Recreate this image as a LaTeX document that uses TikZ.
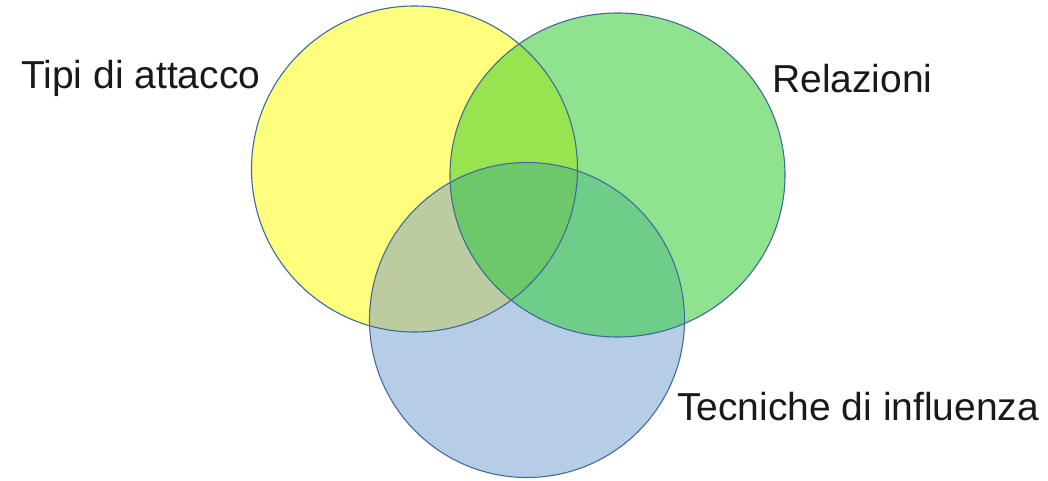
\documentclass[tikz,border=0pt]{standalone}
\usepackage{fontspec}
\setmainfont{Liberation Sans}
\definecolor{cyel}{RGB}{255,255,125}
\definecolor{cgrn}{RGB}{143,227,143}
\definecolor{cblu}{RGB}{182,205,230}
\definecolor{cyg}{RGB}{152,228,80}
\definecolor{cyb}{RGB}{188,203,160}
\definecolor{cgb}{RGB}{110,205,136}
\definecolor{cygb}{RGB}{108,200,104}
\definecolor{cline}{RGB}{62,108,150}
\begin{document}
\begin{tikzpicture}[x=1pt,y=-1pt,
  ring/.style={draw=cline,line width=1.1pt},
  lbl/.style={inner sep=0pt,anchor=base west,font=\fontsize{39}{41}\selectfont,text=black!90}]
\useasboundingbox (0,0) rectangle (1048,481);
\coordinate (cy) at (414.5,169);
\coordinate (cg) at (617.5,175);
\coordinate (cb) at (527,320);
\def\Ypath{(cy) circle[radius=163pt]}
\def\Gpath{(cg) ellipse[x radius=167.5pt,y radius=162pt]}
\def\Bpath{(cb) circle[radius=157.5pt]}
% base fills
\fill[cyel] \Ypath;
\fill[cgrn] \Gpath;
\fill[cblu] \Bpath;
% pairwise overlaps
\begin{scope}\clip \Ypath; \fill[cyg] \Gpath; \end{scope}
\begin{scope}\clip \Ypath; \fill[cyb] \Bpath; \end{scope}
\begin{scope}\clip \Gpath; \fill[cgb] \Bpath; \end{scope}
% triple overlap
\begin{scope}\clip \Ypath; \clip \Gpath; \fill[cygb] \Bpath; \end{scope}
% outlines
\draw[ring] \Ypath;
\draw[ring] \Gpath;
\draw[ring,draw={rgb,255:red,70;green,105;blue,165}] \Bpath;
% labels
\node[lbl] (t1) at (21,89) {Tipi di attacco};
\node[lbl] (t2) at (772,93) {Relazioni};
\node[lbl] (t3) at (677,420) {Tecniche di influenza};
\end{tikzpicture}
\end{document}
